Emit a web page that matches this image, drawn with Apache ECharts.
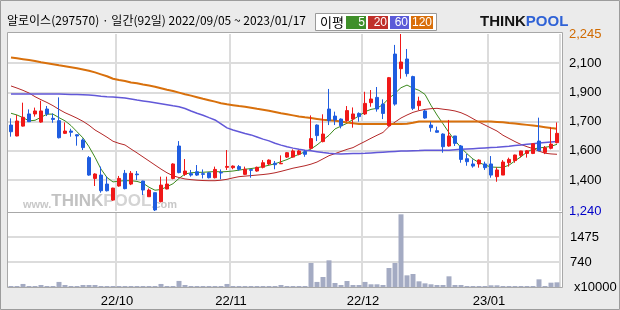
<!DOCTYPE html>
<html><head><meta charset="utf-8">
<script src="https://cdn.jsdelivr.net/npm/echarts@6/dist/echarts.min.js"></script>
<style>html,body{margin:0;padding:0;background:#ebebeb}#c{width:620px;height:310px}</style>
</head><body><div id="c"></div>
<script>
// ---------------- DATA ----------------
const dates = [
'2022-09-05','2022-09-06','2022-09-07','2022-09-08','2022-09-13','2022-09-14','2022-09-15','2022-09-16','2022-09-19','2022-09-20',
'2022-09-21','2022-09-22','2022-09-23','2022-09-26','2022-09-27','2022-09-28','2022-09-29','2022-09-30',
'2022-10-04','2022-10-05','2022-10-06','2022-10-07','2022-10-11','2022-10-12','2022-10-13','2022-10-14','2022-10-17','2022-10-18',
'2022-10-19','2022-10-20','2022-10-21','2022-10-24','2022-10-25','2022-10-26','2022-10-27','2022-10-28','2022-10-31',
'2022-11-01','2022-11-02','2022-11-03','2022-11-04','2022-11-07','2022-11-08','2022-11-09','2022-11-10','2022-11-11','2022-11-14',
'2022-11-15','2022-11-16','2022-11-17','2022-11-18','2022-11-21','2022-11-22','2022-11-23','2022-11-24','2022-11-25','2022-11-28',
'2022-11-29','2022-11-30',
'2022-12-01','2022-12-02','2022-12-05','2022-12-06','2022-12-07','2022-12-08','2022-12-09','2022-12-12','2022-12-13','2022-12-14',
'2022-12-15','2022-12-16','2022-12-19','2022-12-20','2022-12-21','2022-12-22','2022-12-23','2022-12-26','2022-12-27','2022-12-28',
'2022-12-29',
'2023-01-02','2023-01-03','2023-01-04','2023-01-05','2023-01-06','2023-01-09','2023-01-10','2023-01-11','2023-01-12','2023-01-13',
'2023-01-16','2023-01-17'
];
const opens = [
1728,1666,1722,1791,1791,1745,1819,1766,1753,1681,
1694,1673,1643,1543,1425,1444,1393,1302,1382,1454,
1393,1450,1410,1321,1344,1293,1365,1425,1609,1448,
1452,1463,1452,1457,1429,1459,1488,1486,1492,1448,
1475,1467,1488,1507,1511,1508,1546,1546,1562,1577,
1596,1728,1634,1819,1779,1762,1753,1762,1794,1791,
1855,1885,1847,1724,2131,2048,2103,2003,1838,1808,
1728,1696,1677,1609,1666,1609,1537,1507,1507,1507,
1507,1435,1444,1514,1526,1556,1567,1567,1637,1573,
1596,1628];
const closes = [
1690,1751,1772,1747,1808,1808,1791,1760,1656,1694,
1687,1666,1600,1444,1450,1355,1355,1370,1425,1367,
1454,1446,1359,1359,1246,1387,1393,1507,1458,1467,
1444,1444,1448,1429,1476,1456,1493,1495,1477,1477,
1471,1488,1514,1529,1503,1511,1571,1581,1581,1562,
1651,1668,1677,1753,1757,1724,1810,1791,1776,1851,
1876,1819,1794,1997,1847,2086,2020,1823,1864,1768,
1713,1687,1605,1666,1624,1533,1520,1495,1529,1486,
1444,1473,1518,1533,1558,1581,1582,1622,1582,1599,
1620,1681];
const lows = [
1662,1664,1719,1745,1776,1741,1779,1741,1652,1677,
1662,1611,1586,1440,1382,1344,1351,1298,1378,1363,
1387,1416,1331,1321,1240,1289,1363,1420,1454,1439,
1435,1439,1425,1425,1425,1420,1473,1477,1469,1444,
1429,1463,1482,1501,1477,1507,1541,1543,1556,1548,
1590,1637,1630,1728,1728,1709,1747,1713,1747,1785,
1832,1804,1762,1719,1838,1991,2003,1813,1813,1764,
1690,1685,1571,1605,1609,1514,1497,1486,1486,1473,
1429,1406,1444,1492,1514,1545,1543,1563,1580,1563,
1590,1624];
const highs = [
1766,1785,1855,1817,1827,1866,1836,1794,1885,1743,
1707,1675,1652,1552,1454,1492,1435,1372,1439,1473,
1467,1467,1412,1368,1344,1435,1435,1511,1637,1535,
1473,1501,1476,1461,1492,1476,1586,1499,1501,1492,
1478,1492,1529,1533,1524,1556,1575,1590,1586,1586,
1783,1732,1789,1933,1804,1766,1836,1828,1800,1917,
1927,1944,1874,2001,2183,2245,2160,2008,1889,1813,
1747,1719,1681,1757,1666,1615,1564,1533,1533,1520,
1552,1488,1529,1543,1560,1582,1586,1624,1770,1609,
1715,1743];
const volumes = [ // x10000
30,30,90,30,30,60,30,30,150,60,
30,30,60,60,60,30,30,30,30,30,
30,30,30,30,30,90,30,30,180,60,
30,30,30,30,30,30,90,30,30,30,
30,30,30,30,30,60,30,30,30,30,
710,150,296,790,118,59,178,59,59,150,
80,80,59,562,710,2151,345,385,168,108,
80,59,59,316,59,59,30,30,30,30,
50,50,30,30,30,30,30,30,227,30,
128,138];
const ma5 = [
1795,1785,1770,1752,1755,1772,1790,1790,1770,1752,
1725,1690,1655,1605,1545,1478,1430,1405,1410,1412,
1412,1408,1398,1375,1358,1362,1378,1395,1425,1450,
1457,1459,1460,1462,1464,1462,1464,1467,1472,1477,
1481,1486,1492,1500,1508,1520,1532,1548,1562,1576,
1592,1615,1643,1670,1706,1722,1738,1760,1780,1804,
1817,1823,1845,1880,1908,1940,1955,1938,1925,1902,
1840,1785,1735,1685,1640,1600,1565,1535,1515,1501,
1490,1488,1488,1500,1525,1548,1575,1592,1598,1602,
1607,1619];
const ma20 = [
1950,1938,1925,1910,1889,1872,1856,1838,1817,1798,
1783,1767,1749,1727,1700,1680,1659,1636,1624,1615,
1592,1570,1547,1524,1501,1478,1457,1440,1430,1422,
1418,1415,1413,1412,1412,1415,1420,1428,1435,1438,
1441,1444,1447,1451,1457,1465,1474,1483,1490,1497,
1506,1518,1536,1554,1566,1578,1590,1600,1618,1635,
1653,1670,1686,1720,1745,1768,1785,1800,1810,1817,
1821,1823,1818,1814,1808,1798,1783,1764,1745,1728,
1711,1694,1670,1652,1634,1618,1605,1594,1580,1568,
1564,1562];
const ma60 = [
1905,1905,1905,1905,1905,1905,1905,1905,1904,1903,
1902,1901,1900,1899,1896,1892,1889,1887,1885,1881,
1876,1870,1865,1860,1855,1849,1843,1837,1832,1822,
1808,1795,1784,1770,1757,1735,1712,1700,1690,1680,
1672,1660,1648,1638,1625,1614,1605,1597,1590,1585,
1582,1577,1572,1568,1565,1564,1565,1566,1567,1568,
1570,1572,1574,1576,1578,1580,1581,1582,1583,1585,
1585,1585,1585,1585,1588,1590,1592,1594,1596,1598,
1600,1602,1605,1608,1612,1615,1619,1622,1626,1629,
1632,1635];
const ma120 = [
2112,2107,2102,2097,2092,2085,2079,2073,2067,2062,
2056,2050,2043,2036,2027,2016,2005,1991,1984,1978,
1970,1965,1958,1952,1946,1937,1928,1921,1912,1903,
1895,1886,1877,1869,1861,1852,1846,1841,1836,1832,
1826,1820,1815,1809,1802,1795,1789,1783,1777,1772,
1768,1763,1758,1755,1752,1748,1742,1738,1734,1734,
1734,1734,1734,1734,1734,1734,1736,1741,1748,1748,
1748,1748,1748,1748,1748,1748,1748,1748,1748,1748,
1748,1746,1744,1740,1737,1733,1729,1725,1721,1716,
1711,1707];
const priceMin = 1240, priceMax = 2245;
const priceMinLabel = '1,240', priceMaxLabel = '2,245';
const priceGridValues = [2079, 1914, 1747, 1582, 1416];
const priceGridLabels = ['2,100', '1,900', '1,700', '1,600', '1,400'];
const volMax = 2190;
const volGridValues = [1475, 740];
const volGridLabels = ['1475', '740'];
const volUnitLabel = 'x10000';
const monthTickDates = ['2022-10-04', '2022-11-01', '2022-12-01', '2023-01-02'];
const monthTickLabels = ['22/10', '22/11', '22/12', '23/01'];
const titleText = '알로이스(297570) · 일간(92일) 2022/09/05 ~ 2023/01/17';
const maLegendTitle = '이평';
const maLegendNames = ['5', '20', '60', '120'];

// ---------------- STYLE ----------------
const UP = '#f01818', DOWN = '#1f5de0';
const maColors = ['#3c8a1e', '#b42828', '#6258d8', '#d8700c'];
const maLegendColors = ['#3f8f2a', '#c0302a', '#5a5ad8', '#d96f0a'];
const maWidths = [1, 1, 1.5, 2];
const GRIDC = '#dcdcdc';
const NUMFONT = 'Liberation Sans';
const KFONT = 'Noto Sans CJK KR';

const monthIdx = monthTickDates.map(d => dates.indexOf(d));
const candleData = dates.map((d, i) => [opens[i], closes[i], lows[i], highs[i]]);
const maData = [ma5, ma20, ma60, ma120];

const chart = echarts.init(document.getElementById('c'), null, {renderer: 'canvas'});

const legendGroup = {
  type: 'group', left: 315, top: 13,
  children: [
    {type: 'rect', shape: {x: 0.5, y: 0.5, width: 121, height: 17}, style: {fill: '#fff', stroke: '#9a9a9a', lineWidth: 1}},
    {type: 'text', x: 5, y: 9.5, style: {text: maLegendTitle, fontSize: 13, fontFamily: KFONT, fill: '#000', verticalAlign: 'middle'}}
  ]
};
const boxX = [31, 53, 75, 96], boxW = [20, 20, 19, 22];
maLegendNames.forEach((n, k) => {
  legendGroup.children.push({type: 'rect', shape: {x: boxX[k], y: 3, width: boxW[k], height: 13}, style: {fill: maLegendColors[k]}});
  legendGroup.children.push({type: 'text', x: boxX[k] + boxW[k] - 1, y: 9.8, style: {text: n, fontSize: 12, fontFamily: NUMFONT, fill: '#fff', align: 'right', verticalAlign: 'middle'}});
});

const option = {
  animation: false,
  backgroundColor: '#ebebeb',
  title: {
    text: titleText, left: 2, top: 9,
    textStyle: {fontSize: 12, fontWeight: 'normal', color: '#000', fontFamily: KFONT}
  },
  graphic: [
    {type: 'rect', z: -20, shape: {x: 0.5, y: 0.5, width: 619, height: 309}, style: {fill: '#ebebeb', stroke: '#9c9c9c', lineWidth: 1}},
    {type: 'rect', z: -10, shape: {x: 7.5, y: 32.5, width: 555, height: 255}, style: {fill: '#fff', stroke: '#a8a8a8', lineWidth: 1}},
    {type: 'line', z: -9, shape: {x1: 7.5, y1: 212.5, x2: 562.5, y2: 212.5}, style: {stroke: '#a8a8a8', lineWidth: 1}},
    {type: 'text', z: -5, x: 23, y: 210, style: {
      text: '{w|www.}{t|THINK}{p|POOL}{c|.com}', verticalAlign: 'bottom',
      rich: {
        w: {fontSize: 11, fontWeight: 'bold', fill: '#c8c8c8', fontFamily: NUMFONT, verticalAlign: 'bottom'},
        t: {fontSize: 17, fontWeight: 'bold', fill: '#c2c2c2', fontFamily: NUMFONT, verticalAlign: 'bottom'},
        p: {fontSize: 17, fontWeight: 'bold', fill: '#d4d4d4', fontFamily: NUMFONT, verticalAlign: 'bottom'},
        c: {fontSize: 11, fontWeight: 'bold', fill: '#c8c8c8', fontFamily: NUMFONT, verticalAlign: 'bottom'}
      }}},
    legendGroup,
    {type: 'text', x: 480, y: 22, style: {
      text: '{t|THINK}{p|POOL}', verticalAlign: 'middle',
      rich: {
        t: {fontSize: 15, fontWeight: 'bold', fill: '#151515', fontFamily: NUMFONT},
        p: {fontSize: 15, fontWeight: 'bold', fill: '#2f62d6', fontFamily: NUMFONT}
      }}}
  ],
  grid: [
    {left: 8, top: 34, width: 552, height: 177, outerBoundsMode: 'none'},
    {left: 8, top: 213, width: 552, height: 74, outerBoundsMode: 'none'}
  ],
  xAxis: [
    {type: 'category', gridIndex: 0, data: dates, boundaryGap: true,
     axisLine: {show: false}, axisTick: {show: false}, axisLabel: {show: false},
     splitLine: {show: true, interval: (i) => monthIdx.includes(i), lineStyle: {color: GRIDC, width: 2}}},
    {type: 'category', gridIndex: 1, data: dates, boundaryGap: true,
     axisLine: {show: false}, axisTick: {show: false},
     axisLabel: {show: true, interval: (i) => monthIdx.includes(i), margin: 8,
       formatter: (v, i) => '{t|' + monthTickLabels[monthIdx.indexOf(i)] + '}',
       rich: {t: {fontSize: 13, color: '#000', fontFamily: NUMFONT, padding: [0, 4, 0, 0]}}},
     splitLine: {show: true, interval: (i) => monthIdx.includes(i), lineStyle: {color: GRIDC, width: 2}}}
  ],
  yAxis: [
    {type: 'value', gridIndex: 0, min: priceMin, max: priceMax, show: false, splitLine: {show: false}},
    {type: 'value', gridIndex: 1, min: 0, max: volMax, show: false, splitLine: {show: false}}
  ],
  series: [
    ...maData.map((arr, k) => ({
      type: 'line', xAxisIndex: 0, yAxisIndex: 0, data: arr, z: 2,
      symbol: 'none', showSymbol: false, silent: true,
      lineStyle: {color: maColors[k], width: maWidths[k]}
    })),
    {
      type: 'candlestick', xAxisIndex: 0, yAxisIndex: 0, data: candleData, z: 3,
      barWidth: 4,
      itemStyle: {color: UP, color0: DOWN, borderColor: UP, borderColor0: DOWN, borderWidth: 1},
      markLine: {
        silent: true, symbol: ['none', 'none'], z: 1, animation: false,
        lineStyle: {color: GRIDC, width: 2, type: 'solid'},
        label: {position: 'end', distance: 9, color: '#000', fontSize: 13, fontFamily: NUMFONT},
        data: [
          ...priceGridValues.map((v, k) => ({yAxis: v, label: {formatter: priceGridLabels[k]}})),
          {yAxis: priceMax, lineStyle: {color: 'rgba(0,0,0,0)'}, label: {formatter: priceMaxLabel, color: '#d06a00', opacity: 1, padding: [8, 0, 0, 0]}},
          {yAxis: priceMin, lineStyle: {color: 'rgba(0,0,0,0)'}, label: {formatter: priceMinLabel, color: '#0000c8', opacity: 1, padding: [0, 0, 8, 0]}}
        ]
      }
    },
    {
      type: 'bar', xAxisIndex: 1, yAxisIndex: 1, data: volumes, barWidth: 5, z: 3,
      itemStyle: {color: '#a4abc3'}, silent: true,
      markLine: {
        silent: true, symbol: ['none', 'none'], z: 1, animation: false,
        lineStyle: {color: GRIDC, width: 2, type: 'solid'},
        label: {position: 'end', distance: 10, color: '#000', fontSize: 13, fontFamily: NUMFONT},
        data: [
          ...volGridValues.map((v, k) => ({yAxis: v, label: {formatter: volGridLabels[k]}})),
          {yAxis: 0, lineStyle: {color: 'rgba(0,0,0,0)'}, label: {formatter: volUnitLabel, opacity: 1, distance: 14}}
        ]
      }
    }
  ]
};
chart.setOption(option);
</script>
</body></html>
